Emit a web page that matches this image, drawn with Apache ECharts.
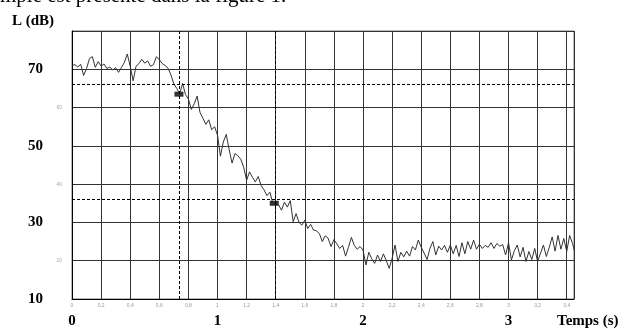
<!DOCTYPE html>
<html>
<head>
<meta charset="utf-8">
<script src="https://cdn.jsdelivr.net/npm/echarts@6/dist/echarts.min.js"></script>
<style>
  html, body { margin: 0; padding: 0; background: #fff; }
  #decay { width: 637px; height: 329px; }
</style>
</head>
<body>
<div id="decay"></div>
<script>
// niveau sonore (dB) échantillonné toutes les 0,02 s, de 0 à 3,44 s
const samplePeriod = 0.02;
const levels = [
  71.0, 71.2, 70.6, 71.3, 68.4, 70.2, 72.8, 73.3, 70.5, 72.0,
  70.8, 71.4, 70.2, 70.6, 69.8, 70.4, 69.2, 70.5, 71.8, 74.0,
  70.8, 67.0, 70.8, 71.5, 72.6, 71.6, 72.2, 70.8, 71.2, 73.3,
  72.5, 71.5, 71.0, 70.3, 68.5, 66.2, 65.0, 63.6, 66.3, 63.4,
  62.2, 59.5, 61.0, 63.0, 58.7, 57.2, 55.6, 56.8, 54.2, 55.0,
  52.8, 47.3, 51.0, 53.0, 49.0, 45.5, 48.0, 47.4, 46.5, 44.4,
  41.0, 43.2, 41.8, 40.6, 42.0, 39.6, 38.5, 37.0, 37.9, 35.0,
  35.2, 34.6, 33.2, 35.3, 34.0, 35.7, 30.2, 32.3, 30.0, 29.3,
  30.6, 28.4, 29.5, 28.0, 27.8, 27.1, 25.0, 26.5, 25.9, 23.7,
  25.5, 24.4, 23.2, 24.0, 21.2, 23.5, 26.1, 24.0, 23.0, 23.7,
  22.8, 18.9, 22.2, 20.5, 19.3, 21.5, 19.8, 21.8, 20.0, 18.0,
  20.6, 24.1, 19.8, 22.2, 21.0, 22.5, 21.2, 23.7, 22.8, 25.4,
  23.5, 22.0, 20.3, 23.2, 25.0, 21.5, 23.8, 22.8, 24.0, 22.2,
  24.1, 21.8, 24.0, 21.1, 24.7, 21.8, 25.0, 23.0, 25.4, 23.0,
  24.3, 23.2, 24.0, 23.5, 24.7, 23.2, 24.5, 23.8, 24.2, 21.5,
  24.7, 20.2, 22.6, 24.1, 21.0, 23.5, 19.8, 22.4, 20.3, 23.2,
  19.8, 22.0, 24.1, 21.1, 23.5, 26.2, 22.5, 26.6, 23.0, 25.8,
  22.4, 26.6, 24.5, 21.5
];
// repères (début / fin de la régression)
const markTimes = [0.735, 1.39];
const markLevels = [63.5, 35.0];
// lignes pointillées
const dashLevels = [66, 36];
const dashTimes = [0.74, 1.40];
// graduations en gros caractères
const bigYLabels = [70, 50, 30, 10];
const bigXLabels = [0, 1, 2, 3];

const chart = echarts.init(document.getElementById('decay'));

const curve = levels.map((v, i) => [+(i * samplePeriod).toFixed(2), v]);
const marks = markTimes.map((t, i) => [t, markLevels[i]]);

const serif = '"Liberation Serif", "DejaVu Serif", serif';

const option = {
  animation: false,
  grid: {
    left: 72, top: 31, right: 63, bottom: 28,
    show: true, borderColor: '#777', borderWidth: 1
  },
  graphic: [
    { type: 'text', left: 0, top: -14,
      style: { text: 'mple est présenté dans la figure 1.', font: '21px ' + serif, fill: '#000' } },
    { type: 'text', left: 12, top: 14,
      style: { text: 'L (dB)', font: 'bold 15px ' + serif, fill: '#000' } },
    { type: 'text', left: 557, top: 314,
      style: { text: 'Temps (s)', font: 'bold 15px ' + serif, fill: '#000' } }
  ],
  xAxis: [
    {
      type: 'value', min: 0, max: 3.45, interval: 0.2,
      axisLine: { show: true, lineStyle: { color: '#000', width: 1 } },
      axisTick: { show: false },
      splitLine: { show: true, lineStyle: { color: '#333', width: 1 } },
      axisLabel: {
        margin: 4, fontSize: 5, color: '#999', showMaxLabel: false,
        formatter: v => (Math.abs(v / 0.2 - Math.round(v / 0.2)) < 1e-6)
          ? String(+v.toFixed(1)).replace('.', ',') : ''
      }
    },
    {
      type: 'value', min: 0, max: 3.45, interval: 1, position: 'bottom',
      axisLine: { show: false }, axisTick: { show: false }, splitLine: { show: false },
      axisLabel: {
        margin: 15, fontSize: 15, fontWeight: 'bold', fontFamily: serif, color: '#000',
        showMaxLabel: false,
        formatter: v => bigXLabels.includes(v) ? String(v) : ''
      }
    }
  ],
  yAxis: {
    type: 'value', min: 10, max: 80, interval: 10,
    axisLine: { show: true, lineStyle: { color: '#000', width: 1 } },
    axisTick: { show: false },
    splitLine: { show: true, lineStyle: { color: '#333', width: 1 } },
    axisLabel: {
      margin: 10,
      formatter: v => v === 80 ? '' : (bigYLabels.includes(v) ? '{b|' + v + '}' : '{s|' + v + '}'),
      rich: {
        b: { fontSize: 15, fontWeight: 'bold', fontFamily: serif, color: '#000', padding: [0, 19, 0, 0] },
        s: { fontSize: 5, color: '#aaa' }
      }
    }
  },
  series: [
    {
      type: 'line',
      data: curve,
      showSymbol: false,
      lineStyle: { color: '#333', width: 1 },
      markLine: {
        silent: true, symbol: 'none', label: { show: false },
        lineStyle: { color: '#000', width: 1, type: [3, 2] },
        data: dashLevels.map(v => ({ yAxis: v })).concat(dashTimes.map(t => ({ xAxis: t })))
      }
    },
    {
      type: 'scatter',
      data: marks,
      symbol: 'rect',
      symbolSize: [9, 5],
      itemStyle: { color: '#000' }
    }
  ]
};

chart.setOption(option);
</script>
</body>
</html>
